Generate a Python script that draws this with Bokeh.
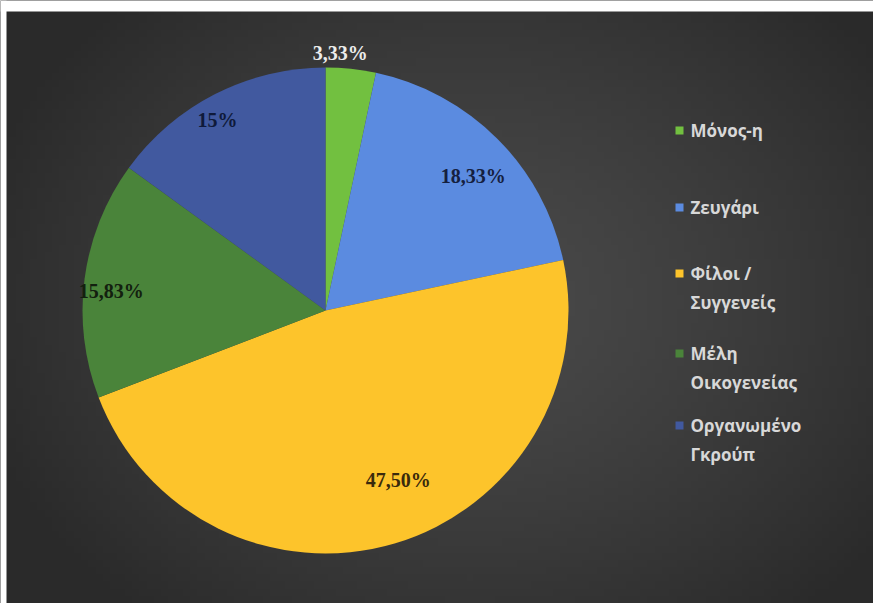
import numpy as np
from bokeh.plotting import figure
from bokeh.models import Range1d, ColumnDataSource
from bokeh.core.properties import value
from bokeh.embed import file_html
from bokeh.resources import INLINE

# ---- data ----
categories = ["Μόνος-η", "Ζευγάρι", "Φίλοι / Συγγενείς", "Μέλη Οικογενείας", "Οργανωμένο Γκρούπ"]
legend_labels = ["Μόνος-η", "Ζευγάρι", "Φίλοι /\nΣυγγενείς", "Μέλη\nΟικογενείας", "Οργανωμένο\nΓκρούπ"]
percentages = [3.33, 18.33, 47.50, 15.83, 15.00]
pct_labels = ["3,33%", "18,33%", "47,50%", "15,83%", "15%"]

# ---- style ----
colors = ["#72c040", "#5b8be0", "#fdc42b", "#4a843a", "#41599f"]
label_colors = ["#ececec", "#15203f", "#3a2a0c", "#13200f", "#0f1a3a"]
label_radius = [1.062, 0.823, 0.76, 0.885, 0.90]
label_angle_shift_deg = [-2.7, 2.6, -6.7, -2.2, -2.6]   # clockwise shift of label placement

W, H = 873, 603
p = figure(width=W, height=H, output_backend="svg", toolbar_location=None,
           x_range=Range1d(0, 873), y_range=Range1d(0, 603),
           min_border_left=0, min_border_right=0, min_border_top=0, min_border_bottom=0)
p.axis.visible = False
p.grid.visible = False
p.outline_line_color = None
p.border_fill_color = "#2e2e2e"
p.background_fill_color = "#3c3c3c"

# background radial gradient (style only)
gx, gy = 120, 84
xs = np.linspace(0, 873, gx)
ys = np.linspace(0, 603, gy)
XX, YY = np.meshgrid(xs, ys)
d = np.sqrt(((XX - 470) / 520) ** 2 + ((YY - 303) / 420) ** 2)
t = np.clip(d, 0, 1)
lv = (74 - (74 - 42) * t ** 1.3).astype(np.uint32)
img = (255 << 24) | (lv << 16) | (lv << 8) | lv
p.image_rgba(image=[img.astype(np.uint32)], x=0, y=0, dw=873, dh=603)

# white page strips on left and top (style only)
p.quad(left=[0, 0], right=[6, 873], bottom=[0, 592], top=[603, 603],
       fill_color="white", line_color=None)

def sy(screen_y):
    return 603 - screen_y

cx, cy, R = 325, sy(310), 243

vals = np.array(percentages) / sum(percentages)
cum = np.concatenate([[0], np.cumsum(vals)])
start = np.pi / 2 - cum[1:] * 2 * np.pi
end = np.pi / 2 - cum[:-1] * 2 * np.pi
mid = (start + end) / 2

src = ColumnDataSource(dict(start=start, end=end, color=colors))
p.wedge(x=cx, y=cy, radius=R, start_angle="start", end_angle="end",
        fill_color="color", line_color=None, direction="anticlock", source=src)

la = mid - np.radians(label_angle_shift_deg)
lx = cx + R * np.array(label_radius) * np.cos(la)
ly = cy + R * np.array(label_radius) * np.sin(la)
p.text(x=lx, y=ly, text=pct_labels, text_color=label_colors,
       text_font=value("Liberation Serif"), text_font_style="bold",
       text_font_size="20px", text_align="center", text_baseline="middle")

# legend (manual)
leg_first_line = [130, 207, 273, 353, 425]
leg_y = [sy(v) for v in leg_first_line]
p.scatter(x=[679] * 5, y=leg_y, marker="square", size=8, fill_color=colors, line_color=None)
p.text(x=[690] * 5, y=[v + 12 for v in leg_y], text=legend_labels, text_color="#d8d8d8",
       text_font=value("Open Sans"), text_font_style="bold", text_font_size="17px",
       text_align="left", text_baseline="top", text_line_height=1.3)

open("out.html", "w").write(file_html(p, INLINE))
